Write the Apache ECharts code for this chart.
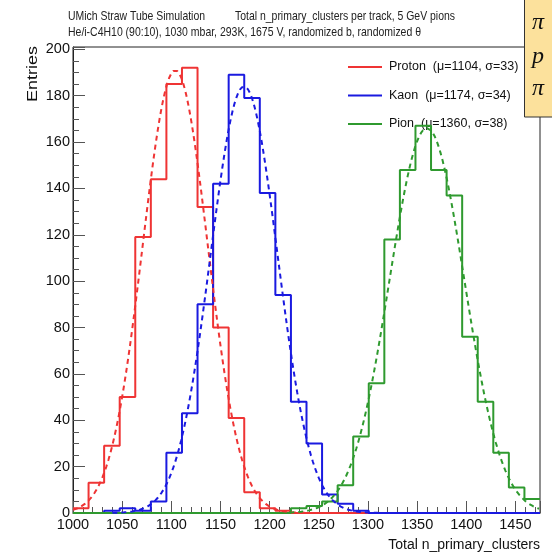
<!DOCTYPE html>
<html>
<head>
<meta charset="utf-8">
<script src="https://cdn.jsdelivr.net/npm/echarts@6/dist/echarts.min.js"></script>
<style>
  html, body { margin: 0; padding: 0; background: #fff; }
  #chart { width: 552px; height: 552px; }
</style>
</head>
<body>
<div id="chart"></div>
<script>
// ---------------- data ----------------
const xMin = 1000;
const xMax = 1475;
const nBins = 30;
const xTicks = [1000, 1050, 1100, 1150, 1200, 1250, 1300, 1350, 1400, 1450];
const yTicks = [0, 20, 40, 60, 80, 100, 120, 140, 160, 180, 200];

const seriesNames = ['Proton  (\u03bc=1104, \u03c3=33)', 'Kaon  (\u03bc=1174, \u03c3=34)', 'Pion  (\u03bc=1360, \u03c3=38)'];
const seriesColors = ['#ef3434', '#1a1ae0', '#2f9a2f'];

const protonCounts = [2, 13, 29, 50, 119, 144, 185, 192, 132, 80, 41, 9, 2, 1, 0,
                      0, 0, 0, 0, 0, 0, 0, 0, 0, 0, 0, 0, 0, 0, 0];
const kaonCounts   = [0, 0, 1, 2, 1, 5, 26, 43, 90, 142, 189, 179, 138, 94, 48,
                      30, 8, 4, 1, 0, 0, 0, 0, 0, 0, 0, 0, 0, 0, 0];
const pionCounts   = [0, 0, 0, 0, 0, 0, 0, 0, 0, 0, 0, 0, 0, 0, 2,
                      3, 5, 12, 33, 56, 118, 148, 167, 148, 137, 76, 48, 26, 11, 6];

// Gaussian fit parameters: [mean, sigma, amplitude], and drawn range
const protonFit = [1104, 33, 191];
const kaonFit   = [1174, 34, 184];
const pionFit   = [1360, 38, 166];
const protonFitRange = [1000, 1290];
const kaonFitRange   = [1040, 1310];
const pionFitRange   = [1220, 1475];

const titleLine1a = 'UMich Straw Tube Simulation';
const titleLine1b = 'Total n_primary_clusters per track, 5 GeV pions';
const titleLine2  = 'He/i-C4H10 (90:10), 1030 mbar, 293K, 1675 V, randomized b, randomized \u03b8';
const xTitle = 'Total n_primary_clusters';
const yTitle = 'Entries';
const boxLabels = ['\u03c0', 'p', '\u03c0'];

// ---------------- helpers ----------------
const binWidth = (xMax - xMin) / nBins;
function histPoints(counts) {
  const pts = counts.map((c, i) => [xMin + i * binWidth, c]);
  pts.push([xMin + counts.length * binWidth, counts[counts.length - 1]]);
  return pts;
}
function fitPoints(p, range) {
  const pts = [];
  for (let x = range[0]; x <= range[1] + 1e-9; x += 2) {
    const z = (x - p[0]) / p[1];
    pts.push([x, p[2] * Math.exp(-0.5 * z * z)]);
  }
  return pts;
}
const SANS = "'Liberation Sans', Arial, Helvetica, sans-serif";
const SERIF = "'Liberation Serif', 'DejaVu Serif', serif";
const measureCtx = document.createElement('canvas').getContext('2d');
function squeeze(text, font, targetWidth) {
  measureCtx.font = font;
  return targetWidth / measureCtx.measureText(text).width;
}
const titleFont = '13px ' + SANS;

const counts = [protonCounts, kaonCounts, pionCounts];
const fits = [protonFit, kaonFit, pionFit];
const ranges = [protonFitRange, kaonFitRange, pionFitRange];

const series = [];
counts.forEach((c, i) => {
  series.push({
    name: seriesNames[i],
    type: 'line',
    step: 'end',
    data: histPoints(c),
    showSymbol: false,
    symbol: 'none',
    lineStyle: { color: seriesColors[i], width: 2 },
    itemStyle: { color: seriesColors[i] },
    z: 3 + i
  });
});
fits.forEach((p, i) => {
  series.push({
    name: seriesNames[i] + ' fit',
    type: 'line',
    data: fitPoints(p, ranges[i]),
    showSymbol: false,
    symbol: 'none',
    lineStyle: { color: seriesColors[i], width: 2, type: [5, 4] },
    itemStyle: { color: seriesColors[i] },
    z: 6 + i
  });
});

function titleText(text, x, y, w) {
  return { type: 'text', x: x, y: y, scaleX: squeeze(text, titleFont, w),
           style: { text: text, font: titleFont, fill: '#222', verticalAlign: 'middle' } };
}

const chart = echarts.init(document.getElementById('chart'), null, { renderer: 'canvas' });
chart.setOption({
  animation: false,
  backgroundColor: '#ffffff',
  legend: {
    data: seriesNames,
    orient: 'vertical',
    left: 343,
    top: 54,
    itemWidth: 34,
    itemHeight: 2,
    itemGap: 12.5,
    icon: 'rect',
    textStyle: { fontFamily: SANS, fontSize: 12.5, color: '#111', lineHeight: 16, padding: [0, 0, 0, 2] }
  },
  grid: {
    left: 73, right: 12, top: 47, bottom: 39,
    containLabel: false, outerBoundsMode: 'none',
    show: true, borderColor: '#222', borderWidth: 1, backgroundColor: 'transparent'
  },
  xAxis: {
    type: 'value',
    min: xMin, max: xMax, interval: 50,
    name: xTitle,
    nameLocation: 'end',
    nameGap: 0,
    nameTextStyle: { fontFamily: SANS, fontSize: 14, color: '#111', align: 'right', verticalAlign: 'top', padding: [25, 0, 0, 0] },
    axisLine: { show: true, lineStyle: { color: '#222', width: 1 } },
    axisTick: { show: true, inside: true, length: 12, lineStyle: { color: '#555' } },
    minorTick: { show: true, splitNumber: 5, length: 6, lineStyle: { color: '#555' } },
    splitLine: { show: false },
    axisLabel: {
      fontFamily: SANS, fontSize: 14.5, color: '#111', margin: 4, showMaxLabel: false,
      formatter: v => (xTicks.indexOf(v) >= 0 ? String(v) : '')
    }
  },
  yAxis: {
    type: 'value',
    min: 0, max: 201, interval: 20,
    axisLine: { show: true, lineStyle: { color: '#222', width: 1 } },
    axisTick: { show: true, inside: true, length: 12, lineStyle: { color: '#555' } },
    minorTick: { show: true, splitNumber: 4, length: 6, lineStyle: { color: '#555' } },
    splitLine: { show: false },
    axisLabel: {
      fontFamily: SANS, fontSize: 14.5, color: '#111', margin: 3, showMaxLabel: false,
      formatter: v => (yTicks.indexOf(v) >= 0 ? String(v) : '')
    }
  },
  graphic: [
    titleText(titleLine1a, 68, 16, 137),
    titleText(titleLine1b, 235, 16, 220),
    titleText(titleLine2, 68, 32, 353),
    { type: 'text', x: 33, y: 46, rotation: Math.PI / 2, scaleY: 0.82,
      style: { text: yTitle, font: '18px ' + SANS, fill: '#111', align: 'right', verticalAlign: 'middle' } },
    {
      type: 'group', z: 100,
      children: [
        { type: 'rect', shape: { x: 524.5, y: -1, width: 40, height: 118 },
          style: { fill: '#fce19c', stroke: '#333', lineWidth: 1 } },
        { type: 'text', x: 532, y: 23, style: { text: boxLabels[0], font: 'italic 24px ' + SERIF, fill: '#111', verticalAlign: 'middle' } },
        { type: 'text', x: 532, y: 57, style: { text: boxLabels[1], font: 'italic 24px ' + SERIF, fill: '#111', verticalAlign: 'middle' } },
        { type: 'text', x: 532, y: 89, style: { text: boxLabels[2], font: 'italic 24px ' + SERIF, fill: '#111', verticalAlign: 'middle' } }
      ]
    }
  ],
  series: series
});
</script>
</body>
</html>
